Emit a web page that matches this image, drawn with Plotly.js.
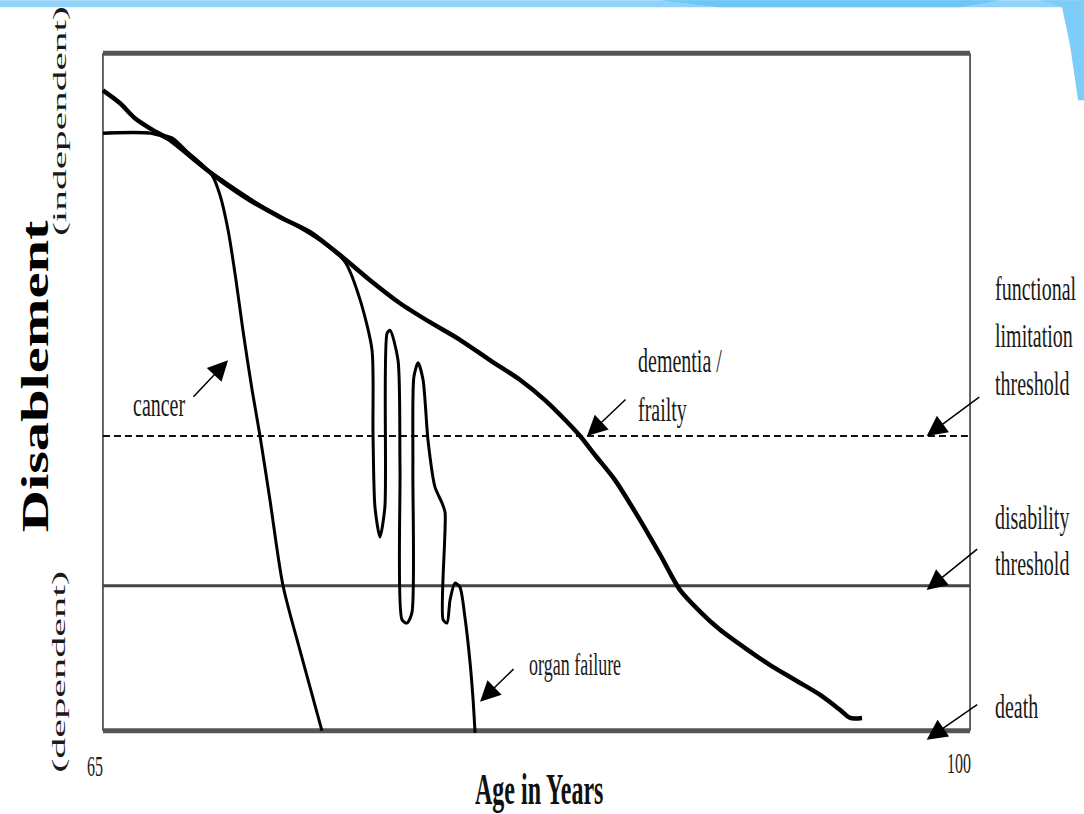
<!DOCTYPE html>
<html>
<head>
<meta charset="utf-8">
<script src="https://cdn.plot.ly/plotly-3.0.1.min.js"></script>
<style>
html,body{margin:0;padding:0;background:#fff;}
#chart{width:1084px;height:814px;}
</style>
</head>
<body>
<div id="chart"></div>
<script>
// ---- data ----
const ageRange = [65, 100];
const xTickLabels = ['65', '100'];

const topLevel = 100;           // fully independent
const functionalLimit = 43.5;   // functional limitation threshold (dashed)
const disabilityLevel = 21.4;   // disability threshold
const deathLevel = 0;           // death

const dementiaAge   = [65.00,65.69,66.29,66.90,67.70,68.71,69.72,70.93,72.15,73.36,74.57,75.78,76.99,78.20,79.41,80.62,81.83,82.84,83.65,84.26,84.86,85.67,86.68,87.49,88.29,89.10,89.91,90.92,91.93,92.94,93.95,94.75,95.16,95.64];
const dementiaLevel = [94.5,92.6,90.4,88.9,87.2,84.2,81.3,78.3,75.8,73.6,70.2,66.5,63.1,60.3,57.7,54.7,51.8,48.8,45.9,43.5,40.7,37.0,31.1,26.0,20.8,17.6,14.9,12.2,9.7,7.5,5.3,3.1,1.9,1.9];

const cancerAge   = [65.00,66.90,67.70,68.71,69.40,69.72,70.05,70.37,70.65,71.02,71.34,71.74,72.27,72.95,73.84];
const cancerLevel = [88.2,88.2,87.2,84.5,82.0,79.1,73.9,66.5,59.1,50.3,43.5,34.1,21.4,11.9,0];

const organAge   = [65.00,66.90,67.79,68.84,69.93,71.34,72.55,73.76,74.77,75.38,75.86,75.90,75.98,76.18,76.38,76.47,76.59,76.91,76.99,77.07,77.27,77.47,77.51,77.55,77.72,77.92,78.12,78.40,78.69,78.81,78.73,78.89,79.01,79.21,79.41,79.61,79.82,79.94,80.02];
const organLevel = [88.2,88.2,87.5,83.8,81.0,77.6,75.1,72.4,69.2,63.6,56.2,44.0,33.0,28.6,33.0,58.7,59.1,54.7,38.9,16.4,15.9,17.4,38.9,52.2,54.3,51.8,42.9,36.0,33.6,32.2,16.4,15.9,19.3,21.8,21.2,16.8,10.0,4.6,-0.3];

// arrow tips (age, level) for the curve labels
const cancerTip   = [70.05, 54.7];
const organTip    = [80.22, 4.3];
const dementiaTip = [84.54, 43.5];
const thresholdArrowAge = 98.25;

// ---- layout geometry (pixel helpers for decorations outside the plot) ----
const W = 1084, H = 814;
const L = 98.05, R = 109.05, T = 42.83, B = 72.87;
const PW = W - L - R, PH = H - T - B;
const px = X => (X - L) / PW;
const py = Y => (H - B - Y) / PH;

const serif = 'Liberation Serif, Times New Roman, serif';

function hline(level, color, width, dash) {
  return {x: ageRange, y: [level, level], mode: 'lines', hoverinfo: 'skip',
          line: {color: color, width: width, dash: dash || 'solid'}, cliponaxis: false};
}
function vline(age, color, width) {
  return {x: [age, age], y: [deathLevel, topLevel], mode: 'lines', hoverinfo: 'skip',
          line: {color: color, width: width}, cliponaxis: false};
}

const traces = [
  vline(ageRange[0], '#333', 1.5),
  vline(ageRange[1], '#333', 1.5),
  hline(topLevel, '#555', 5),
  hline(deathLevel, '#555', 5),
  hline(disabilityLevel, '#444', 3),
  hline(functionalLimit, '#111', 2, '7px,4px'),
  {x: cancerAge, y: cancerLevel, mode: 'lines', hoverinfo: 'skip',
   line: {color: '#000', width: 3, shape: 'spline', smoothing: 0.8}},
  {x: organAge, y: organLevel, mode: 'lines', hoverinfo: 'skip',
   line: {color: '#000', width: 3, shape: 'spline', smoothing: 0.7}},
  {x: dementiaAge, y: dementiaLevel, mode: 'lines', hoverinfo: 'skip',
   line: {color: '#000', width: 4.5, shape: 'spline', smoothing: 0.8}}
];

function arrow(x, y, ax, ay) {
  return {x: x, y: y, xref: 'x', yref: 'y', ax: ax, ay: ay, text: '',
          showarrow: true, arrowhead: 2, arrowsize: 2.7, arrowwidth: 1.5, arrowcolor: '#000'};
}
// stretch: [axis, factor] applied to the text glyphs after drawing (the reference lettering is elongated)
const stretch = {};
let annId = 0;
function label(text, x, y, anchor, size, opts, sx, sy) {
  const id = 'ann' + (annId++);
  stretch[id] = [sx || 1, sy || 1];
  return Object.assign({text: text, x: x, y: y, xref: 'paper', yref: 'paper',
          xanchor: anchor || 'left', yanchor: 'middle', showarrow: false, name: id,
          font: {family: serif, size: size || 20, color: '#1a1a1a'}}, opts || {});
}

const TS = 1.7; // vertical stretch of the small lettering
const annotations = [
  // curve labels
  label('cancer', px(188), py(404), 'right', 20, null, 1, TS),
  label('organ failure', px(527), py(665), 'left', 18, null, 1, TS),
  label('dementia /', px(636), py(360), 'left', 20, null, 1, TS),
  label('frailty', px(636), py(409), 'left', 20, null, 1, TS),
  // threshold labels
  label('functional', px(993), py(288), 'left', 20, null, 1, TS),
  label('limitation', px(993), py(335), 'left', 20, null, 1, TS),
  label('threshold', px(993), py(383), 'left', 20, null, 1, TS),
  label('disability', px(993), py(518), 'left', 20, null, 1, TS),
  label('threshold', px(993), py(563), 'left', 20, null, 1, TS),
  label('death', px(993), py(706), 'left', 20, null, 1, TS),
  // axis texts
  label(xTickLabels[0], px(95), py(767), 'center', 16, null, 1, 1.8),
  label(xTickLabels[1], px(959), py(764), 'center', 16, null, 1, 1.8),
  label('<b>Age in Years</b>', px(539), py(789), 'center', 24, {font: {family: serif, size: 24, color: '#111'}}, 1, 1.85),
  label('<b>Disablement</b>', px(35), py(376), 'center', 37, {textangle: -90, font: {family: serif, size: 37, color: '#000'}}, 1.58, 1),
  label('(independent)', px(60), py(121), 'center', 18, {textangle: -90, font: {family: serif, size: 18, color: '#1a1a1a'}}, 2.3, 1),
  label('(dependent)', px(60), py(672), 'center', 18, {textangle: -90, font: {family: serif, size: 18, color: '#1a1a1a'}}, 2.35, 1),
  // arrows
  arrow(cancerTip[0], cancerTip[1], -36, 38),
  arrow(organTip[0], organTip[1], 35, -34),
  arrow(dementiaTip[0], dementiaTip[1], 40, -38),
  arrow(thresholdArrowAge, functionalLimit, 54, -40),
  arrow(thresholdArrowAge, disabilityLevel - 0.6, 52, -42),
  arrow(thresholdArrowAge, deathLevel - 1.3, 52, -36)
];

const shapes = [
  // slide template banner (decoration)
  {type: 'path', xref: 'paper', yref: 'paper', layer: 'above', line: {width: 0}, fillcolor: '#8fd2fa',
   path: `M ${px(0)} ${py(0)} L ${px(1084)} ${py(0)} L ${px(1084)} ${py(7)} L ${px(0)} ${py(7)} Z`},
  {type: 'path', xref: 'paper', yref: 'paper', layer: 'above', line: {width: 0}, fillcolor: '#6cc6f8',
   path: `M ${px(660)} ${py(0)} L ${px(1000)} ${py(0)} L ${px(960)} ${py(7)} L ${px(720)} ${py(7)} Z`},
  {type: 'path', xref: 'paper', yref: 'paper', layer: 'above', line: {width: 0}, fillcolor: '#7dcdf9',
   path: `M ${px(1040)} ${py(0)} L ${px(1084)} ${py(0)} L ${px(1084)} ${py(100)} L ${px(1078)} ${py(100)} L ${px(1070)} ${py(45)} L ${px(1062)} ${py(7)} Z`}
];

const layout = {
  width: W, height: H,
  margin: {l: L, r: R, t: T, b: B, pad: 0},
  paper_bgcolor: '#fff', plot_bgcolor: '#fff',
  showlegend: false,
  xaxis: {range: [64.8, 100.2], visible: false, fixedrange: true},
  yaxis: {range: [-1.5, 101.5], visible: false, fixedrange: true},
  annotations: annotations,
  shapes: shapes
};

Plotly.newPlot('chart', traces, layout, {staticPlot: true, displayModeBar: false}).then(gd => {
  const groups = document.querySelectorAll('.annotation');
  groups.forEach(g => {
    const idx = +g.getAttribute('data-index');
    const ann = gd.layout.annotations[idx];
    if (!ann || !ann.name || !stretch[ann.name]) return;
    const [sx, sy] = stretch[ann.name];
    if (sx === 1 && sy === 1) return;
    const t = g.querySelector('.annotation-text');
    if (!t) return;
    t.style.transformBox = 'fill-box';
    t.style.transformOrigin = 'center';
    t.style.transform = `scale(${sx}, ${sy})`;
  });
});
</script>
</body>
</html>
